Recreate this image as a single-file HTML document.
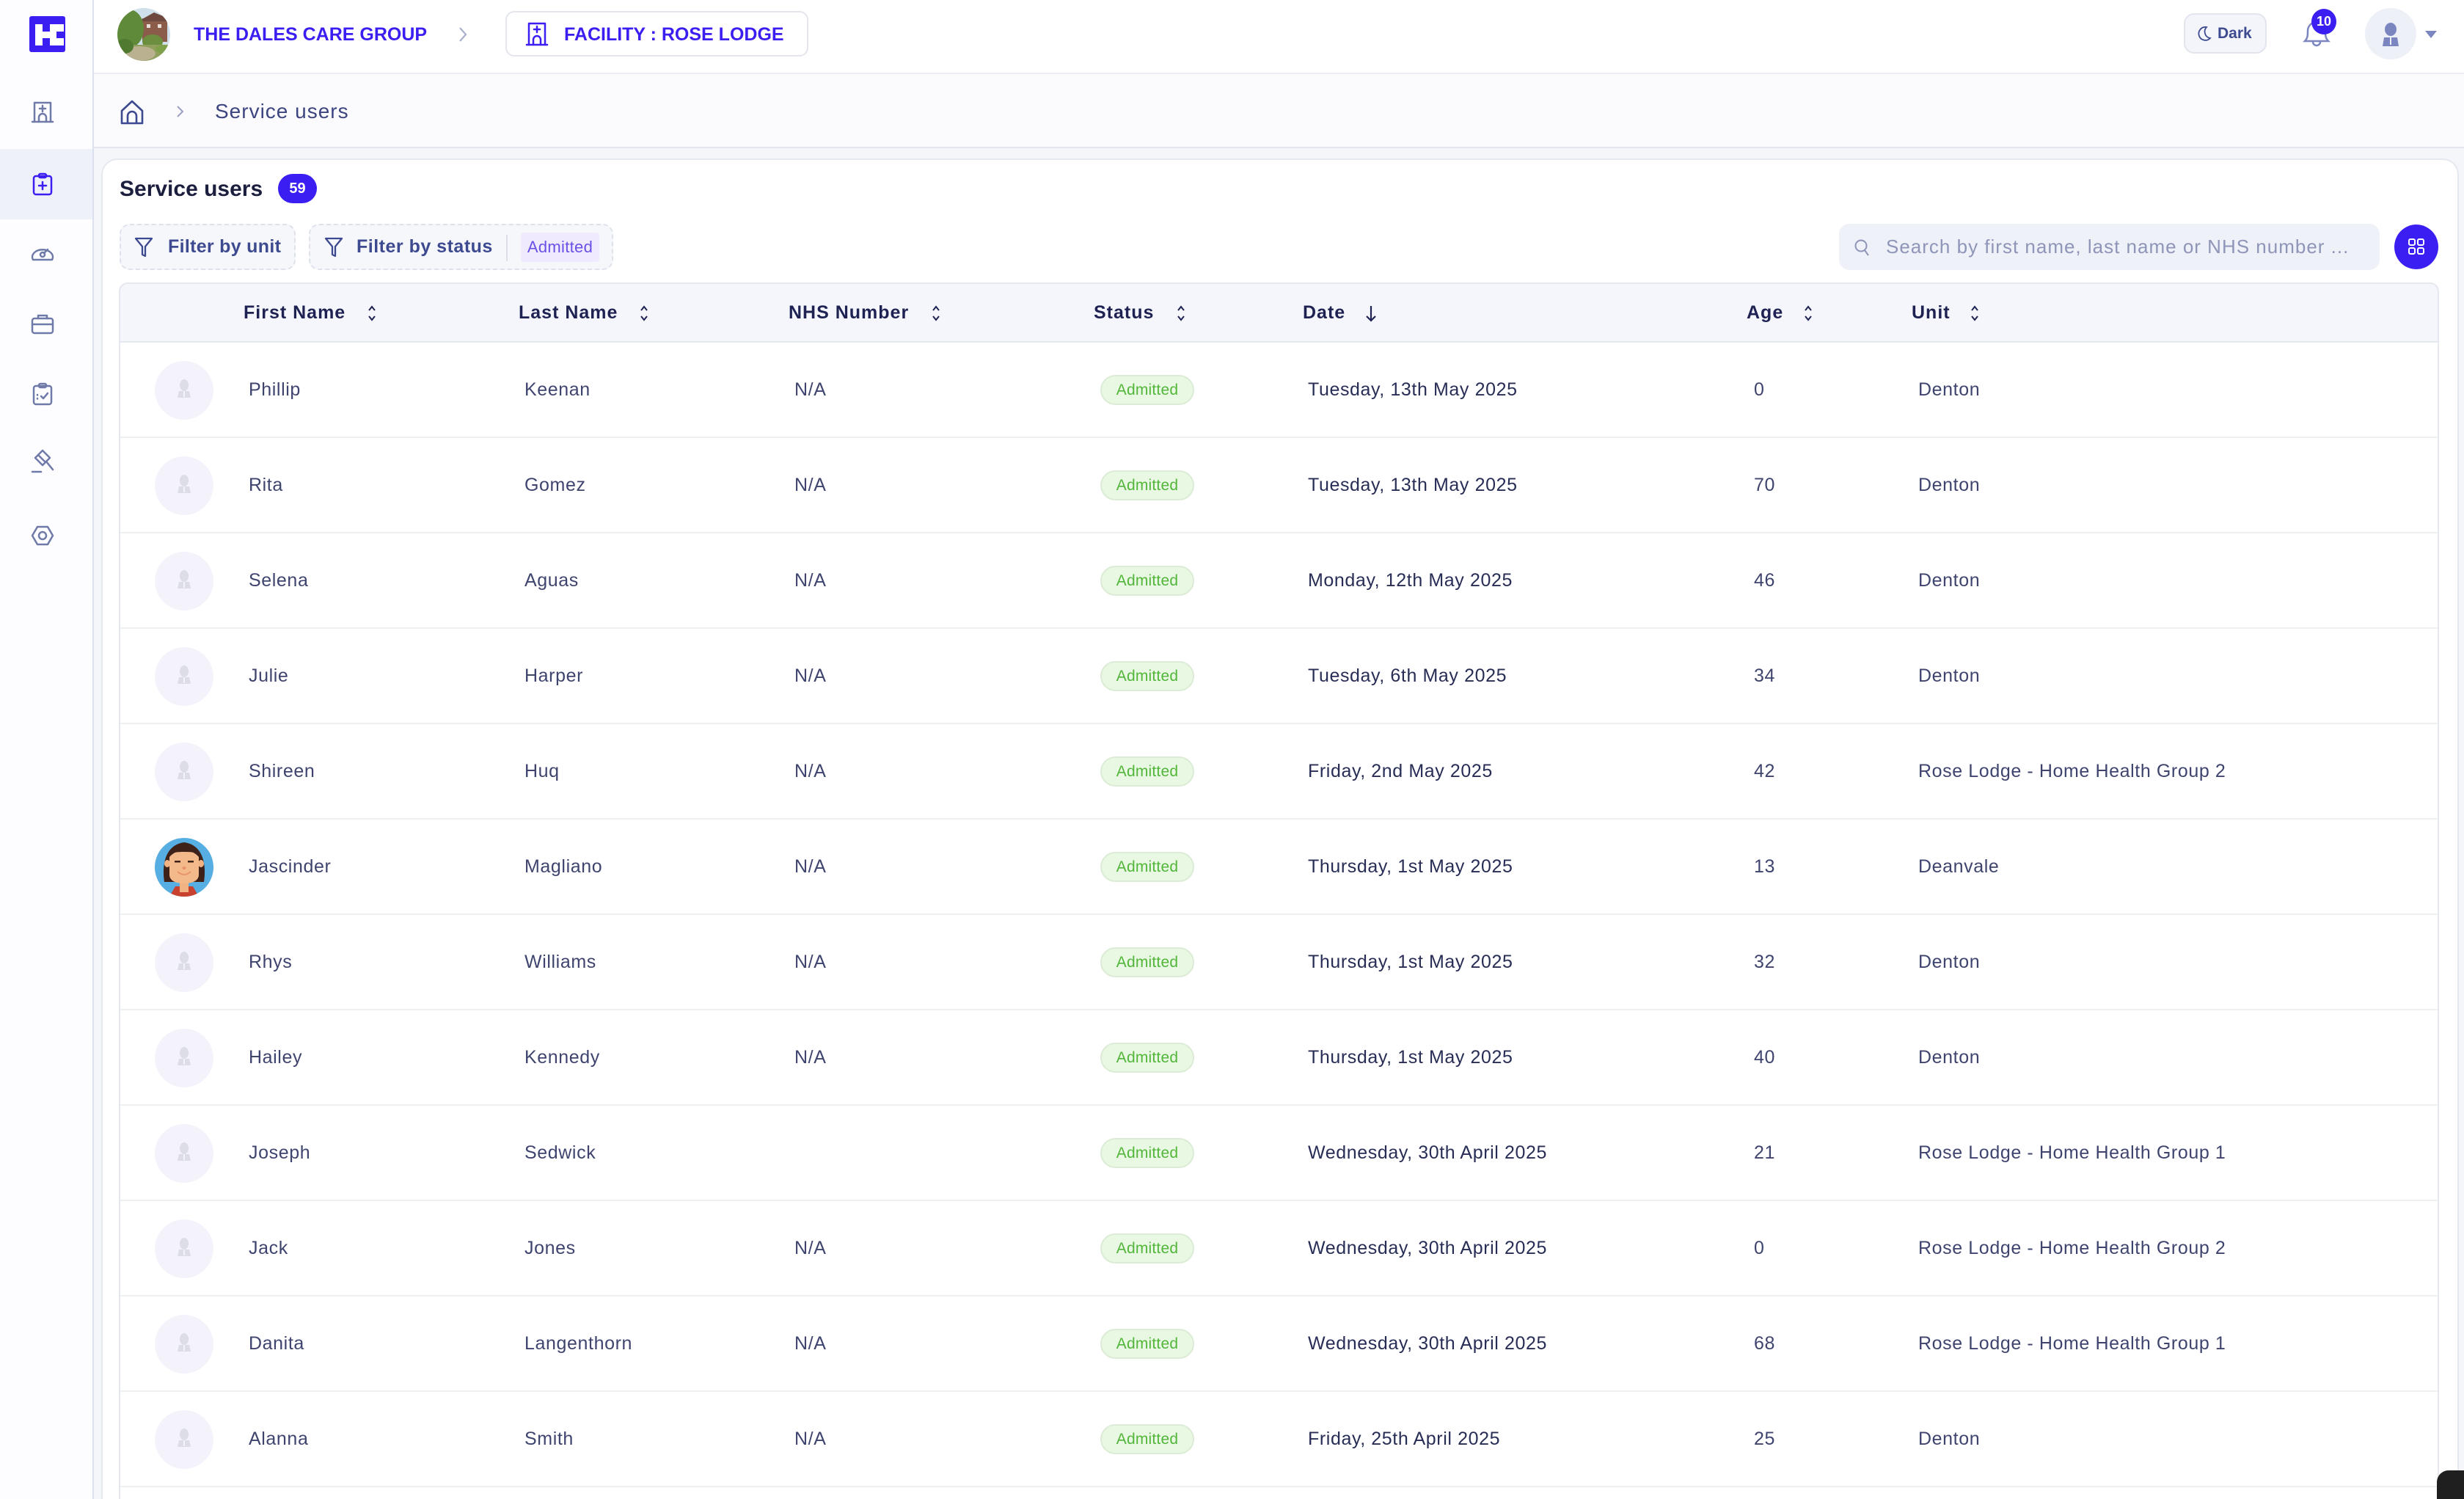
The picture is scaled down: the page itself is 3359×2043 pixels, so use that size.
<!DOCTYPE html>
<html><head><meta charset="utf-8">
<style>
*{margin:0;padding:0;box-sizing:border-box}
html,body{width:3359px;height:2043px;overflow:hidden}
body{background:#f5f6fa;font-family:"Liberation Sans",Arial,sans-serif}
#root{position:relative;width:3359px;height:2043px;overflow:hidden;background:#f5f6fa}
.abs{position:absolute}
.side{left:0;top:0;width:128px;height:2043px;background:#fdfdff;border-right:2px solid #dde0ef}
.hdr{left:128px;top:0;width:3231px;height:101px;background:#fff;border-bottom:2px solid #eceef3}
.bc{left:128px;top:101px;width:3231px;height:101px;background:#fbfbfd;border-bottom:2px solid #e4e6ee}
.card{left:138px;top:216px;width:3214px;height:1860px;background:#fff;border:2px solid #e6e8ef;border-radius:22px}
.tbl{position:absolute;left:162px;top:385px;width:3163px;height:1700px;background:#fff}
.tbl::after{content:"";position:absolute;left:0;top:0;right:0;bottom:0;border:2px solid #e6e8ef;border-radius:12px 12px 0 0;pointer-events:none}
.th{position:absolute;left:0;top:0;width:100%;height:82px;background:#f5f6fb;border-bottom:2px solid #e6e8ef;border-radius:12px 12px 0 0}
.th span{position:absolute;top:0;line-height:82px;font-size:25px;font-weight:bold;color:#1e2252;letter-spacing:1px;white-space:nowrap}
.th svg{position:absolute;top:29px}
.row{position:absolute;left:0;width:100%;height:130px;border-bottom:2px solid #eff0f4}
.row span{position:absolute;top:0;line-height:128px;font-size:25px;color:#3f446f;letter-spacing:.6px;white-space:nowrap}
.row .dt{color:#282d56}
.row .av{position:absolute;left:49px;top:25px;width:80px;height:80px;border-radius:50%;background:#f4f3fc}
.row .st{position:absolute;left:1338px;top:44px;width:128px;height:41px;border-radius:21px;background:#e8f8e2;border:2px solid #dcebd6;color:#52b63a;font-size:21px;line-height:37px;text-align:center;letter-spacing:.2px}
</style></head><body><div id="root">

<!-- Sidebar -->
<div class="abs side"></div>
<div class="abs" style="left:40px;top:22px;width:49px;height:49px;background:#3b1ff2;border-radius:3px"></div>
<div class="abs" style="left:48px;top:33px;width:10px;height:29px;background:#fff"></div>
<div class="abs" style="left:58px;top:43px;width:10px;height:9px;background:#fff"></div>
<div class="abs" style="left:68px;top:33px;width:9px;height:29px;background:#fff"></div>
<div class="abs" style="left:77px;top:33px;width:10px;height:10px;background:#fff"></div>
<div class="abs" style="left:77px;top:52px;width:10px;height:10px;background:#fff"></div>
<div class="abs" style="left:0;top:203px;width:126px;height:96px;background:#eef1f9"></div>

<svg class="abs" style="left:0;top:0" width="126" height="800">
 <g fill="none" stroke="#6f7aa8" stroke-width="2.5" stroke-linecap="round" stroke-linejoin="round">
  <path d="M47 166 V140 H69 V166"/><path d="M44 166 H72"/><path d="M58 144 V152 M54 148 H62"/><path d="M53 166 V160 A5 5 0 0 1 63 160 V166"/>
  <path d="M45 354 A14 10 0 1 1 71 354 Z"/><circle cx="58" cy="347" r="3"/><path d="M60 345 L65 340"/>
  <rect x="44" y="434" width="28" height="20" rx="3"/><path d="M52 434 V430 H64 V434"/><path d="M44 442 H72"/>
  <rect x="46" y="526" width="24" height="25" rx="3"/><rect x="53" y="523" width="10" height="5" rx="2"/><path d="M56 540 L59 543 L65 536"/><path d="M51 538 v0.5 M51 543 v0.5"/>
  <path d="M52 620 L62 630 M48 624 L58 614 L68 624 L58 634 Z"/><path d="M63 629 L72 640"/><path d="M44 643 H56"/>
  <path d="M51 718 H65 L72 730 L65 742 H51 L44 730 Z"/><circle cx="58" cy="730" r="5"/>
 </g>
 <g fill="none" stroke="#3b1ff2" stroke-width="2.5" stroke-linecap="round" stroke-linejoin="round">
  <rect x="46" y="240" width="24" height="25" rx="3"/><rect x="53" y="237" width="10" height="5" rx="2"/><path d="M58 248 V258 M53 253 H63"/>
 </g>
</svg>

<!-- Header -->
<div class="abs hdr"></div>
<svg class="abs" style="left:160px;top:11px" width="72" height="72">
 <defs><clipPath id="cc"><circle cx="36" cy="36" r="36"/></clipPath></defs>
 <g clip-path="url(#cc)">
  <rect width="72" height="72" fill="#cfe0ea"/>
  <rect x="34" y="14" width="34" height="32" fill="#8b5c4a"/>
  <polygon points="32,16 50,6 70,14 70,18 32,18" fill="#6e4a3e"/>
  <rect x="40" y="22" width="5" height="5" fill="#e8e0d8"/><rect x="55" y="22" width="5" height="5" fill="#e8e0d8"/>
  <ellipse cx="16" cy="28" rx="20" ry="26" fill="#5f8a3a"/>
  <ellipse cx="48" cy="46" rx="14" ry="10" fill="#6b8f3f"/>
  <rect x="0" y="50" width="72" height="22" fill="#8fa05c"/>
  <ellipse cx="30" cy="62" rx="22" ry="10" fill="#b9b190"/>
  <ellipse cx="10" cy="52" rx="12" ry="10" fill="#4f7a30"/>
  <ellipse cx="62" cy="56" rx="10" ry="6" fill="#7fa04a"/>
 </g>
</svg>
<div class="abs" style="left:264px;top:32px;line-height:30px;font-size:25px;font-weight:bold;color:#3b1ff2;white-space:nowrap">THE DALES CARE GROUP</div>
<svg class="abs" style="left:624px;top:36px" width="14" height="22"><path d="M3 2 L11 11 L3 20" fill="none" stroke="#a9aecb" stroke-width="2.2"/></svg>
<div class="abs" style="left:689px;top:15px;width:413px;height:62px;border:2px solid #e4e6ee;border-radius:12px;background:#fff"></div>
<svg class="abs" style="left:714px;top:28px" width="36" height="36">
 <g fill="none" stroke="#3b1ff2" stroke-width="2.5" stroke-linecap="round" stroke-linejoin="round">
  <path d="M7 33 V4 H29 V33"/><path d="M4 33 H32"/><path d="M18 8 V16 M14 12 H22"/><path d="M13 33 V26 A5 5 0 0 1 23 26 V33"/>
 </g>
</svg>
<div class="abs" style="left:769px;top:32px;line-height:30px;font-size:25px;font-weight:bold;color:#3b1ff2;white-space:nowrap">FACILITY : ROSE LODGE</div>

<div class="abs" style="left:2977px;top:18px;width:113px;height:55px;border:2px solid #e3e5ee;border-radius:14px;background:#f3f5fa"></div>
<svg class="abs" style="left:2995px;top:35px" width="20" height="22"><path d="M13 2 A9 9 0 1 0 18 17 A9 9 0 0 1 13 2 Z" fill="none" stroke="#3d4a8f" stroke-width="1.8"/></svg>
<div class="abs" style="left:3023px;top:31px;line-height:30px;font-size:21px;font-weight:bold;color:#3d4a8f">Dark</div>
<svg class="abs" style="left:3134px;top:28px" width="48" height="40">
 <g fill="none" stroke="#7b86c1" stroke-width="2.5"><path d="M8 28 C12 24 12 20 12 14 A12 12 0 0 1 36 14 C36 20 36 24 40 28 Z"/><path d="M19 29 A5 5 0 0 0 29 29"/></g>
</svg>
<div class="abs" style="left:3151px;top:12px;width:34px;height:35px;border-radius:50%;background:#3b1ff2;color:#fff;font-weight:bold;font-size:18px;line-height:35px;text-align:center">10</div>
<div class="abs" style="left:3224px;top:11px;width:70px;height:70px;border-radius:50%;background:#eef0f8"></div>
<svg class="abs" style="left:3224px;top:11px" width="70" height="70"><g fill="#7b86c1"><ellipse cx="35" cy="29" rx="8" ry="9"/><path d="M24 52 L26 40 H44 L46 52 Z"/></g><path d="M35 40 V50" stroke="#eef0f8" stroke-width="2"/></svg>
<svg class="abs" style="left:3304px;top:40px" width="20" height="14"><polygon points="2,2 18,2 10,12" fill="#7b86c1"/></svg>

<!-- Breadcrumb -->
<div class="abs bc"></div>
<svg class="abs" style="left:162px;top:135px" width="36" height="36">
 <g fill="none" stroke="#3d4a8f" stroke-width="2.6" stroke-linejoin="round"><path d="M4 16 L18 3 L32 16 V33 H4 Z"/><path d="M12 33 V23 A6 6 0 0 1 24 23 V33"/></g>
</svg>
<svg class="abs" style="left:240px;top:143px" width="12" height="18"><path d="M2 2 L9 9 L2 16" fill="none" stroke="#9aa0c0" stroke-width="2"/></svg>
<div class="abs" style="left:293px;top:134px;line-height:36px;font-size:28px;color:#3d4580;letter-spacing:1px;white-space:nowrap">Service users</div>

<!-- Card -->
<div class="abs card"></div>
<div class="abs" style="left:163px;top:239px;line-height:38px;font-size:30px;font-weight:bold;color:#1b1e3d;white-space:nowrap">Service users</div>
<div class="abs" style="left:379px;top:237px;width:53px;height:40px;border-radius:20px;background:#3b1ff2;color:#fff;font-weight:bold;font-size:20px;line-height:40px;text-align:center">59</div>

<div class="abs" style="left:163px;top:305px;width:240px;height:63px;border:2px dashed #dfe2ec;border-radius:14px;background:#f6f7fb"></div>
<svg class="abs" style="left:182px;top:322px" width="28" height="30"><path d="M3 3 H25 L16 14 V27 L12 25 V14 Z" fill="none" stroke="#3d4a8f" stroke-width="2.3" stroke-linejoin="round"/></svg>
<div class="abs" style="left:229px;top:321px;line-height:30px;font-size:25px;font-weight:bold;color:#3d4a8f;letter-spacing:.3px;white-space:nowrap">Filter by unit</div>

<div class="abs" style="left:421px;top:305px;width:415px;height:63px;border:2px dashed #dfe2ec;border-radius:14px;background:#f6f7fb"></div>
<svg class="abs" style="left:441px;top:322px" width="28" height="30"><path d="M3 3 H25 L16 14 V27 L12 25 V14 Z" fill="none" stroke="#3d4a8f" stroke-width="2.3" stroke-linejoin="round"/></svg>
<div class="abs" style="left:486px;top:321px;line-height:30px;font-size:25px;font-weight:bold;color:#3d4a8f;letter-spacing:.5px;white-space:nowrap">Filter by status</div>
<div class="abs" style="left:690px;top:320px;width:2px;height:36px;background:#dcdfea"></div>
<div class="abs" style="left:710px;top:317px;width:107px;height:40px;border-radius:4px;background:#efeafd;color:#6b50e6;font-size:22px;line-height:40px;text-align:center;letter-spacing:.3px">Admitted</div>

<div class="abs" style="left:2507px;top:305px;width:737px;height:63px;border-radius:14px;background:#eef1f8"></div>
<svg class="abs" style="left:2526px;top:324px" width="26" height="28"><g fill="none" stroke="#8f95b8" stroke-width="2"><circle cx="11" cy="11" r="7.5"/><path d="M16 17 L21 24"/></g></svg>
<div class="abs" style="left:2571px;top:321px;line-height:30px;font-size:26px;color:#8f95b8;letter-spacing:1px;white-space:nowrap">Search by first name, last name or NHS number ...</div>
<div class="abs" style="left:3264px;top:306px;width:60px;height:61px;border-radius:50%;background:#3b1ff2"></div>
<svg class="abs" style="left:3264px;top:306px" width="60" height="61"><g fill="none" stroke="#fff" stroke-width="2"><rect x="20" y="20" width="8" height="8" rx="2"/><rect x="32" y="20" width="8" height="8" rx="2"/><rect x="20" y="32" width="8" height="8" rx="2"/><rect x="32" y="32" width="8" height="8" rx="2"/></g></svg>

<!-- Table -->
<div class="tbl">
 <div class="th">
  <span style="left:170px">First Name</span><svg style="left:338px" width="14" height="26"><path d="M3 9 L7 4 L11 9 M3 17 L7 22 L11 17" fill="none" stroke="#1e2252" stroke-width="2"/></svg>
  <span style="left:545px">Last Name</span><svg style="left:709px" width="14" height="26"><path d="M3 9 L7 4 L11 9 M3 17 L7 22 L11 17" fill="none" stroke="#1e2252" stroke-width="2"/></svg>
  <span style="left:913px">NHS Number</span><svg style="left:1107px" width="14" height="26"><path d="M3 9 L7 4 L11 9 M3 17 L7 22 L11 17" fill="none" stroke="#1e2252" stroke-width="2"/></svg>
  <span style="left:1329px">Status</span><svg style="left:1441px" width="14" height="26"><path d="M3 9 L7 4 L11 9 M3 17 L7 22 L11 17" fill="none" stroke="#1e2252" stroke-width="2"/></svg>
  <span style="left:1614px">Date</span><svg style="left:1699px" width="16" height="26"><path d="M8 3 V23 M2 17 L8 23 L14 17" fill="none" stroke="#1e2252" stroke-width="2.2"/></svg>
  <span style="left:2219px">Age</span><svg style="left:2296px" width="14" height="26"><path d="M3 9 L7 4 L11 9 M3 17 L7 22 L11 17" fill="none" stroke="#1e2252" stroke-width="2"/></svg>
  <span style="left:2444px">Unit</span><svg style="left:2523px" width="14" height="26"><path d="M3 9 L7 4 L11 9 M3 17 L7 22 L11 17" fill="none" stroke="#1e2252" stroke-width="2"/></svg>
 </div>

 <div class="row" style="top:82px"><div class="av"><svg width="80" height="80"><g fill="#dcdde6"><ellipse cx="40" cy="33" rx="6" ry="8"/><path d="M31 50 L33 41 H47 L49 50 Z"/></g><path d="M40 41 V49" stroke="#f4f3fc" stroke-width="2"/></svg></div><span style="left:177px">Phillip</span><span style="left:553px">Keenan</span><span style="left:921px">N/A</span><div class="st">Admitted</div><span class="dt" style="left:1621px">Tuesday, 13th May 2025</span><span style="left:2229px">0</span><span style="left:2453px">Denton</span></div>

 <div class="row" style="top:212px"><div class="av"><svg width="80" height="80"><g fill="#dcdde6"><ellipse cx="40" cy="33" rx="6" ry="8"/><path d="M31 50 L33 41 H47 L49 50 Z"/></g><path d="M40 41 V49" stroke="#f4f3fc" stroke-width="2"/></svg></div><span style="left:177px">Rita</span><span style="left:553px">Gomez</span><span style="left:921px">N/A</span><div class="st">Admitted</div><span class="dt" style="left:1621px">Tuesday, 13th May 2025</span><span style="left:2229px">70</span><span style="left:2453px">Denton</span></div>

 <div class="row" style="top:342px"><div class="av"><svg width="80" height="80"><g fill="#dcdde6"><ellipse cx="40" cy="33" rx="6" ry="8"/><path d="M31 50 L33 41 H47 L49 50 Z"/></g><path d="M40 41 V49" stroke="#f4f3fc" stroke-width="2"/></svg></div><span style="left:177px">Selena</span><span style="left:553px">Aguas</span><span style="left:921px">N/A</span><div class="st">Admitted</div><span class="dt" style="left:1621px">Monday, 12th May 2025</span><span style="left:2229px">46</span><span style="left:2453px">Denton</span></div>

 <div class="row" style="top:472px"><div class="av"><svg width="80" height="80"><g fill="#dcdde6"><ellipse cx="40" cy="33" rx="6" ry="8"/><path d="M31 50 L33 41 H47 L49 50 Z"/></g><path d="M40 41 V49" stroke="#f4f3fc" stroke-width="2"/></svg></div><span style="left:177px">Julie</span><span style="left:553px">Harper</span><span style="left:921px">N/A</span><div class="st">Admitted</div><span class="dt" style="left:1621px">Tuesday, 6th May 2025</span><span style="left:2229px">34</span><span style="left:2453px">Denton</span></div>

 <div class="row" style="top:602px"><div class="av"><svg width="80" height="80"><g fill="#dcdde6"><ellipse cx="40" cy="33" rx="6" ry="8"/><path d="M31 50 L33 41 H47 L49 50 Z"/></g><path d="M40 41 V49" stroke="#f4f3fc" stroke-width="2"/></svg></div><span style="left:177px">Shireen</span><span style="left:553px">Huq</span><span style="left:921px">N/A</span><div class="st">Admitted</div><span class="dt" style="left:1621px">Friday, 2nd May 2025</span><span style="left:2229px">42</span><span style="left:2453px">Rose Lodge - Home Health Group 2</span></div>

 <div class="row" style="top:732px"><div class="av" style="background:#56aee2"><svg width="80" height="80">
   <defs><clipPath id="fc"><circle cx="40" cy="40" r="40"/></clipPath></defs>
   <g clip-path="url(#fc)">
    <path d="M13 60 C10 40 12 10 40 6 C68 10 70 40 67 60 Z" fill="#3e2219"/>
    <path d="M28 66 L52 66 L60 80 H20 Z" fill="#c8402e"/>
    <rect x="34" y="58" width="12" height="16" fill="#f2b384"/>
    <ellipse cx="17" cy="35" rx="4" ry="5" fill="#f2b384"/><ellipse cx="63" cy="35" rx="4" ry="5" fill="#f2b384"/>
    <path d="M20 22 C26 18 54 18 60 22 V50 C60 58 52 62 40 62 C28 62 20 58 20 50 Z" fill="#f4b98a"/>
    <path d="M20 26 C30 14 50 14 60 26 L60 18 C52 8 28 8 20 18 Z" fill="#3e2219"/>
    <rect x="27" y="31" width="8" height="2.5" fill="#3e2219"/><rect x="45" y="31" width="8" height="2.5" fill="#3e2219"/>
    <path d="M31 46 Q40 54 49 46" fill="none" stroke="#e8946a" stroke-width="2"/>
    <ellipse cx="40" cy="41" rx="2.5" ry="2" fill="#e8946a"/>
   </g></svg></div><span style="left:177px">Jascinder</span><span style="left:553px">Magliano</span><span style="left:921px">N/A</span><div class="st">Admitted</div><span class="dt" style="left:1621px">Thursday, 1st May 2025</span><span style="left:2229px">13</span><span style="left:2453px">Deanvale</span></div>

 <div class="row" style="top:862px"><div class="av"><svg width="80" height="80"><g fill="#dcdde6"><ellipse cx="40" cy="33" rx="6" ry="8"/><path d="M31 50 L33 41 H47 L49 50 Z"/></g><path d="M40 41 V49" stroke="#f4f3fc" stroke-width="2"/></svg></div><span style="left:177px">Rhys</span><span style="left:553px">Williams</span><span style="left:921px">N/A</span><div class="st">Admitted</div><span class="dt" style="left:1621px">Thursday, 1st May 2025</span><span style="left:2229px">32</span><span style="left:2453px">Denton</span></div>

 <div class="row" style="top:992px"><div class="av"><svg width="80" height="80"><g fill="#dcdde6"><ellipse cx="40" cy="33" rx="6" ry="8"/><path d="M31 50 L33 41 H47 L49 50 Z"/></g><path d="M40 41 V49" stroke="#f4f3fc" stroke-width="2"/></svg></div><span style="left:177px">Hailey</span><span style="left:553px">Kennedy</span><span style="left:921px">N/A</span><div class="st">Admitted</div><span class="dt" style="left:1621px">Thursday, 1st May 2025</span><span style="left:2229px">40</span><span style="left:2453px">Denton</span></div>

 <div class="row" style="top:1122px"><div class="av"><svg width="80" height="80"><g fill="#dcdde6"><ellipse cx="40" cy="33" rx="6" ry="8"/><path d="M31 50 L33 41 H47 L49 50 Z"/></g><path d="M40 41 V49" stroke="#f4f3fc" stroke-width="2"/></svg></div><span style="left:177px">Joseph</span><span style="left:553px">Sedwick</span><div class="st">Admitted</div><span class="dt" style="left:1621px">Wednesday, 30th April 2025</span><span style="left:2229px">21</span><span style="left:2453px">Rose Lodge - Home Health Group 1</span></div>

 <div class="row" style="top:1252px"><div class="av"><svg width="80" height="80"><g fill="#dcdde6"><ellipse cx="40" cy="33" rx="6" ry="8"/><path d="M31 50 L33 41 H47 L49 50 Z"/></g><path d="M40 41 V49" stroke="#f4f3fc" stroke-width="2"/></svg></div><span style="left:177px">Jack</span><span style="left:553px">Jones</span><span style="left:921px">N/A</span><div class="st">Admitted</div><span class="dt" style="left:1621px">Wednesday, 30th April 2025</span><span style="left:2229px">0</span><span style="left:2453px">Rose Lodge - Home Health Group 2</span></div>

 <div class="row" style="top:1382px"><div class="av"><svg width="80" height="80"><g fill="#dcdde6"><ellipse cx="40" cy="33" rx="6" ry="8"/><path d="M31 50 L33 41 H47 L49 50 Z"/></g><path d="M40 41 V49" stroke="#f4f3fc" stroke-width="2"/></svg></div><span style="left:177px">Danita</span><span style="left:553px">Langenthorn</span><span style="left:921px">N/A</span><div class="st">Admitted</div><span class="dt" style="left:1621px">Wednesday, 30th April 2025</span><span style="left:2229px">68</span><span style="left:2453px">Rose Lodge - Home Health Group 1</span></div>

 <div class="row" style="top:1512px"><div class="av"><svg width="80" height="80"><g fill="#dcdde6"><ellipse cx="40" cy="33" rx="6" ry="8"/><path d="M31 50 L33 41 H47 L49 50 Z"/></g><path d="M40 41 V49" stroke="#f4f3fc" stroke-width="2"/></svg></div><span style="left:177px">Alanna</span><span style="left:553px">Smith</span><span style="left:921px">N/A</span><div class="st">Admitted</div><span class="dt" style="left:1621px">Friday, 25th April 2025</span><span style="left:2229px">25</span><span style="left:2453px">Denton</span></div>
</div>

<div class="abs" style="left:3322px;top:2004px;width:40px;height:45px;background:#1f1f1f;border-top-left-radius:16px"></div>
</div></body></html>
